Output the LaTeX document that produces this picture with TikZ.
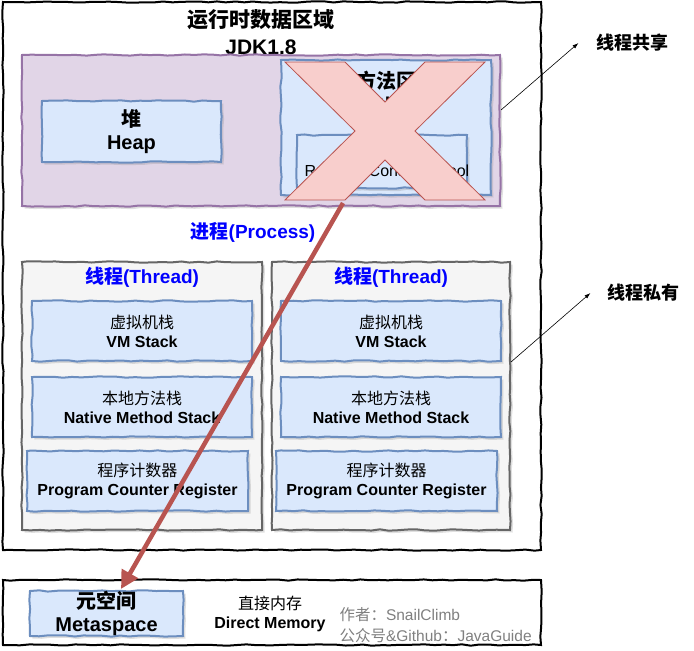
\documentclass[tikz,border=0pt]{standalone}
\usepackage{fontspec}
\setmainfont{Liberation Sans}
\newfontfamily\cjk{Noto Sans CJK SC}
\usetikzlibrary{arrows.meta,shadows,decorations.pathmorphing}
\definecolor{jvmpurple}{HTML}{E1D5E7}
\definecolor{jvmpurpleline}{HTML}{9673A6}
\definecolor{jvmblue}{HTML}{DAE8FC}
\definecolor{jvmblueline}{HTML}{6C8EBF}
\definecolor{jvmgray}{HTML}{F5F5F5}
\definecolor{jvmgrayline}{HTML}{666666}
\definecolor{jvmred}{HTML}{F8CECC}
\definecolor{jvmredline}{HTML}{B85450}
\definecolor{jvmtitle}{HTML}{0000FF}
\tikzset{
  sketch/.style={decorate, decoration={random steps, segment length=9pt, amplitude=0.7pt}},
  boxshadow/.style={drop shadow={opacity=0.25, shadow xshift=2.5pt, shadow yshift=-2.5pt}},
  region/.style={sketch, draw=black, fill=white, line width=2pt, inner sep=0pt},
  sharedbox/.style={sketch, draw=jvmpurpleline, fill=jvmpurple, line width=2pt, inner sep=0pt, boxshadow},
  threadbox/.style={sketch, draw=jvmgrayline, fill=jvmgray, line width=2pt, inner sep=0pt, boxshadow},
  membox/.style={sketch, draw=jvmblueline, fill=jvmblue, line width=2pt, inner sep=0pt, boxshadow, align=center},
  bigtext/.style={font=\fontsize{20}{23}\selectfont\bfseries, align=center},
  smalltext/.style={font=\fontsize{16}{19}\selectfont, align=center},
  bluetitle/.style={font=\fontsize{19}{22}\selectfont\bfseries, text=jvmtitle},
  note/.style={font=\fontsize{18}{22}\selectfont\bfseries},
  notearrow/.style={-{Latex[length=6pt,width=4pt]}, line width=0.6pt}
}
\newcommand{\zh}[1]{{\cjk #1}}
\pgfmathsetseed{11}

\begin{document}
\begin{tikzpicture}[x=1pt, y=-1pt]
\useasboundingbox (0,0) rectangle (694,651);

% runtime data area
\node[region, minimum width=538pt, minimum height=548pt] (runtime) at (272,276) {};
\node[font=\fontsize{21}{27}\selectfont\bfseries, align=center] (rtitle) at (261,32) {\zh{运行时数据区域}\\JDK1.8};

% shared by threads
\node[sharedbox, minimum width=478pt, minimum height=151pt] (shared) at (261,130.5) {};
\node[membox, bigtext, minimum width=179pt, minimum height=61pt] (heap) at (131.5,131.5) {\zh{堆}\\Heap};
\node[membox, minimum width=210pt, minimum height=135pt] (method) at (386,127.5) {};
\node[bigtext] (methodtxt) at (386,91) {\zh{方法区}\\Method};
\node[membox, minimum width=170pt, minimum height=53pt] (rcp) at (382,161.5) {};
\node[smalltext] (rcptxt) at (387,171) {Runtime Constant Pool};

% crossed out
\draw[fill=jvmred, draw=jvmredline, line width=0.8pt]
  (285,62) -- (345,62) -- (385,102) -- (425,62) -- (485,62) -- (415,131)
  -- (485,200) -- (425,200) -- (385,160) -- (345,200) -- (285,200) -- (355,131) -- cycle;

\node[bluetitle] (process) at (253,232) {\zh{进程}(Process)};

% threads
\node[threadbox, minimum width=240pt, minimum height=268pt] (thread1) at (142,396) {};
\node[threadbox, minimum width=238pt, minimum height=268pt] (thread2) at (391,396) {};
\node[bluetitle] (t1title) at (142,277) {\zh{线程}(Thread)};
\node[bluetitle] (t2title) at (391,277) {\zh{线程}(Thread)};

\node[membox, smalltext, minimum width=220pt, minimum height=60pt] (vm1) at (142,331) {\zh{虚拟机栈}\\\textbf{VM Stack}};
\node[membox, smalltext, minimum width=220pt, minimum height=60pt] (native1) at (142,407) {\zh{本地方法栈}\\\textbf{Native Method Stack}};
\node[membox, smalltext, minimum width=221pt, minimum height=60pt] (pc1) at (137.5,481) {\zh{程序计数器}\\\textbf{Program Counter Register}};
\node[membox, smalltext, minimum width=220pt, minimum height=60pt] (vm2) at (391,331) {\zh{虚拟机栈}\\\textbf{VM Stack}};
\node[membox, smalltext, minimum width=220pt, minimum height=60pt] (native2) at (391,407) {\zh{本地方法栈}\\\textbf{Native Method Stack}};
\node[membox, smalltext, minimum width=221pt, minimum height=60pt] (pc2) at (386.5,481) {\zh{程序计数器}\\\textbf{Program Counter Register}};

% direct memory
\node[region, minimum width=538pt, minimum height=65pt] (direct) at (272,612.5) {};
\node[membox, bigtext, minimum width=153pt, minimum height=45pt] (meta) at (106.5,613.5) {\zh{元空间}\\Metaspace};
\node[smalltext] (directtxt) at (270,614) {\zh{直接内存}\\\textbf{Direct Memory}};
\node[font=\fontsize{15.5}{21}\selectfont, align=left, anchor=west, text=gray] (author) at (336,625.5) {\zh{作者：}SnailClimb\\\zh{公众号}\&Github\zh{：}JavaGuide};

% moved to metaspace
\coordinate (xfoot) at (343,203);
\coordinate (metatop) at (121,589);
\draw[jvmredline, line width=4.5pt, -{Triangle[length=18pt,width=18pt]}] (xfoot) -- (metatop);

% notes
\node[note] (sharenote) at (632,43) {\zh{线程共享}};
\node[note] (privnote) at (643,293) {\zh{线程私有}};
\coordinate (sharefrom) at (501,110);
\coordinate (privfrom) at (511,362);
\draw[notearrow] (sharefrom) -- ([xshift=-14pt]sharenote.west);
\draw[notearrow] (privfrom) -- ([xshift=-13pt]privnote.west);
\end{tikzpicture}
\end{document}
